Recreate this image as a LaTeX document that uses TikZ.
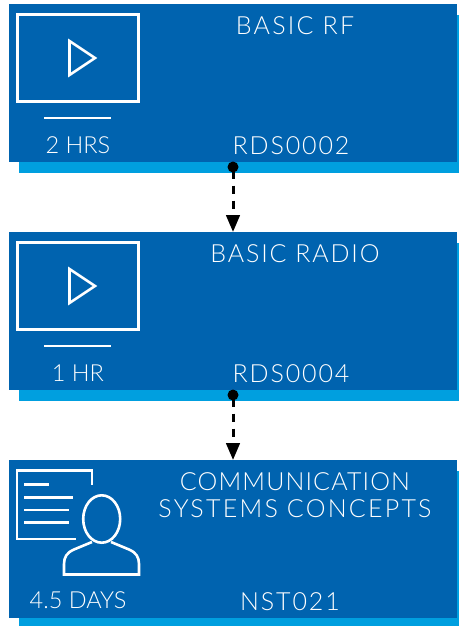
\documentclass[tikz,border=0pt]{standalone}
\usepackage{fontspec}
\setmainfont{Lato}[UprightFont={* Light}]
\usetikzlibrary{arrows.meta}
\definecolor{cardblue}{HTML}{0063AF}
\definecolor{shadeblue}{HTML}{009FDF}
\newcommand{\ls}[1]{\addfontfeature{LetterSpace=#1}}
\tikzset{
 x=1pt,y=-1pt,
 card/.style={fill=cardblue,draw=none,minimum width=448pt,minimum height=158pt,inner sep=0pt,outer sep=0pt,anchor=north west},
 shade/.style={fill=shadeblue,draw=none,minimum width=440pt,minimum height=158pt,inner sep=0pt,outer sep=0pt,anchor=north west},
 title/.style={text=white,font=\fontsize{25}{27}\selectfont,align=center,inner sep=0pt,anchor=base},
 dur/.style={text=white,font=\fontsize{23.5}{27}\selectfont,inner sep=0pt,anchor=base},
 icon/.style={draw=white,line width=2.6pt,fill=none},
 dotnode/.style={circle,fill=black,minimum size=11pt,inner sep=0pt,outer sep=0pt},
 link/.style={draw=black,line width=3pt,dash pattern=on 8pt off 7pt,-{Triangle[length=17pt,width=13.5pt,fill=black]},shorten <=-2pt},
}
\begin{document}
\begin{tikzpicture}
\useasboundingbox (0,0) rectangle (459,626);
\clip (0,0) rectangle (459,626);
% cards
\node[shade] (s1) at (19,15) {};
\node[shade] (s2) at (19,243) {};
\node[shade] (s3) at (19,471) {};
\node[card] (c1) at (9,4) {};
\node[card] (c2) at (9,232) {};
\node[card] (c3) at (9,460) {};
% video icons
\foreach \d in {0,228}{
  \begin{scope}[yshift=-\d pt]
  \draw[icon,line join=miter] (17.3,14.5) rectangle (138.7,101.5);
  \draw[icon,line join=miter] (69.5,41) -- (95,58) -- (69.5,75) -- cycle;
  \draw[icon] (44,118) -- (111,118);
  \end{scope}
}
% person icon
\draw[icon,line join=miter] (92,484.5) -- (92,470.5) -- (17,470.5) -- (17,539) -- (76,539);
\draw[icon] (24,484.5) -- (49,484.5);
\draw[icon] (24,497.5) -- (72.5,497.5);
\draw[icon] (24,510) -- (69,510);
\draw[icon] (24,522.5) -- (69,522.5);
\draw[icon] (101.7,519) ellipse [x radius=18.5,y radius=23.7];
\draw[icon,line join=miter] (92,542) -- (74,549.5) .. controls (67,552.5) and (64,557) .. (64,564) -- (64,574.5) -- (139,574.5) -- (139,564) .. controls (139,557) and (136,552.5) .. (129,549.5) -- (111,542);
% labels
\node[title] (t1) at (295,35) {\ls{9}BASIC RF};
\node[title] (t2) at (295,262) {\ls{7.5}BASIC RADIO};
\node[title] (t3a) at (295,490) {\ls{4.5}COMMUNICATION};
\node[title] (t3b) at (295,517) {\ls{9}SYSTEMS CONCEPTS};
\node[title] (k1) at (291,154) {\ls{7.5}RDS0002};
\node[title] (k2) at (291,382) {\ls{7.5}RDS0004};
\node[title] (k3) at (290,610) {\ls{7.5}NST021};
\node[dur] (d1) at (78,153) {2 HRS};
\node[dur] (d2) at (78,381) {1 HR};
\node[dur] (d3) at (78,608) {4.5 DAYS};
% connectors
\node[dotnode] (p1) at (233,167) {};
\node[dotnode] (p2) at (233,395) {};
\coordinate (e1) at (233,232);
\coordinate (e2) at (233,460);
\draw[link] (p1.south) -- (e1);
\draw[link] (p2.south) -- (e2);
\end{tikzpicture}
\end{document}
